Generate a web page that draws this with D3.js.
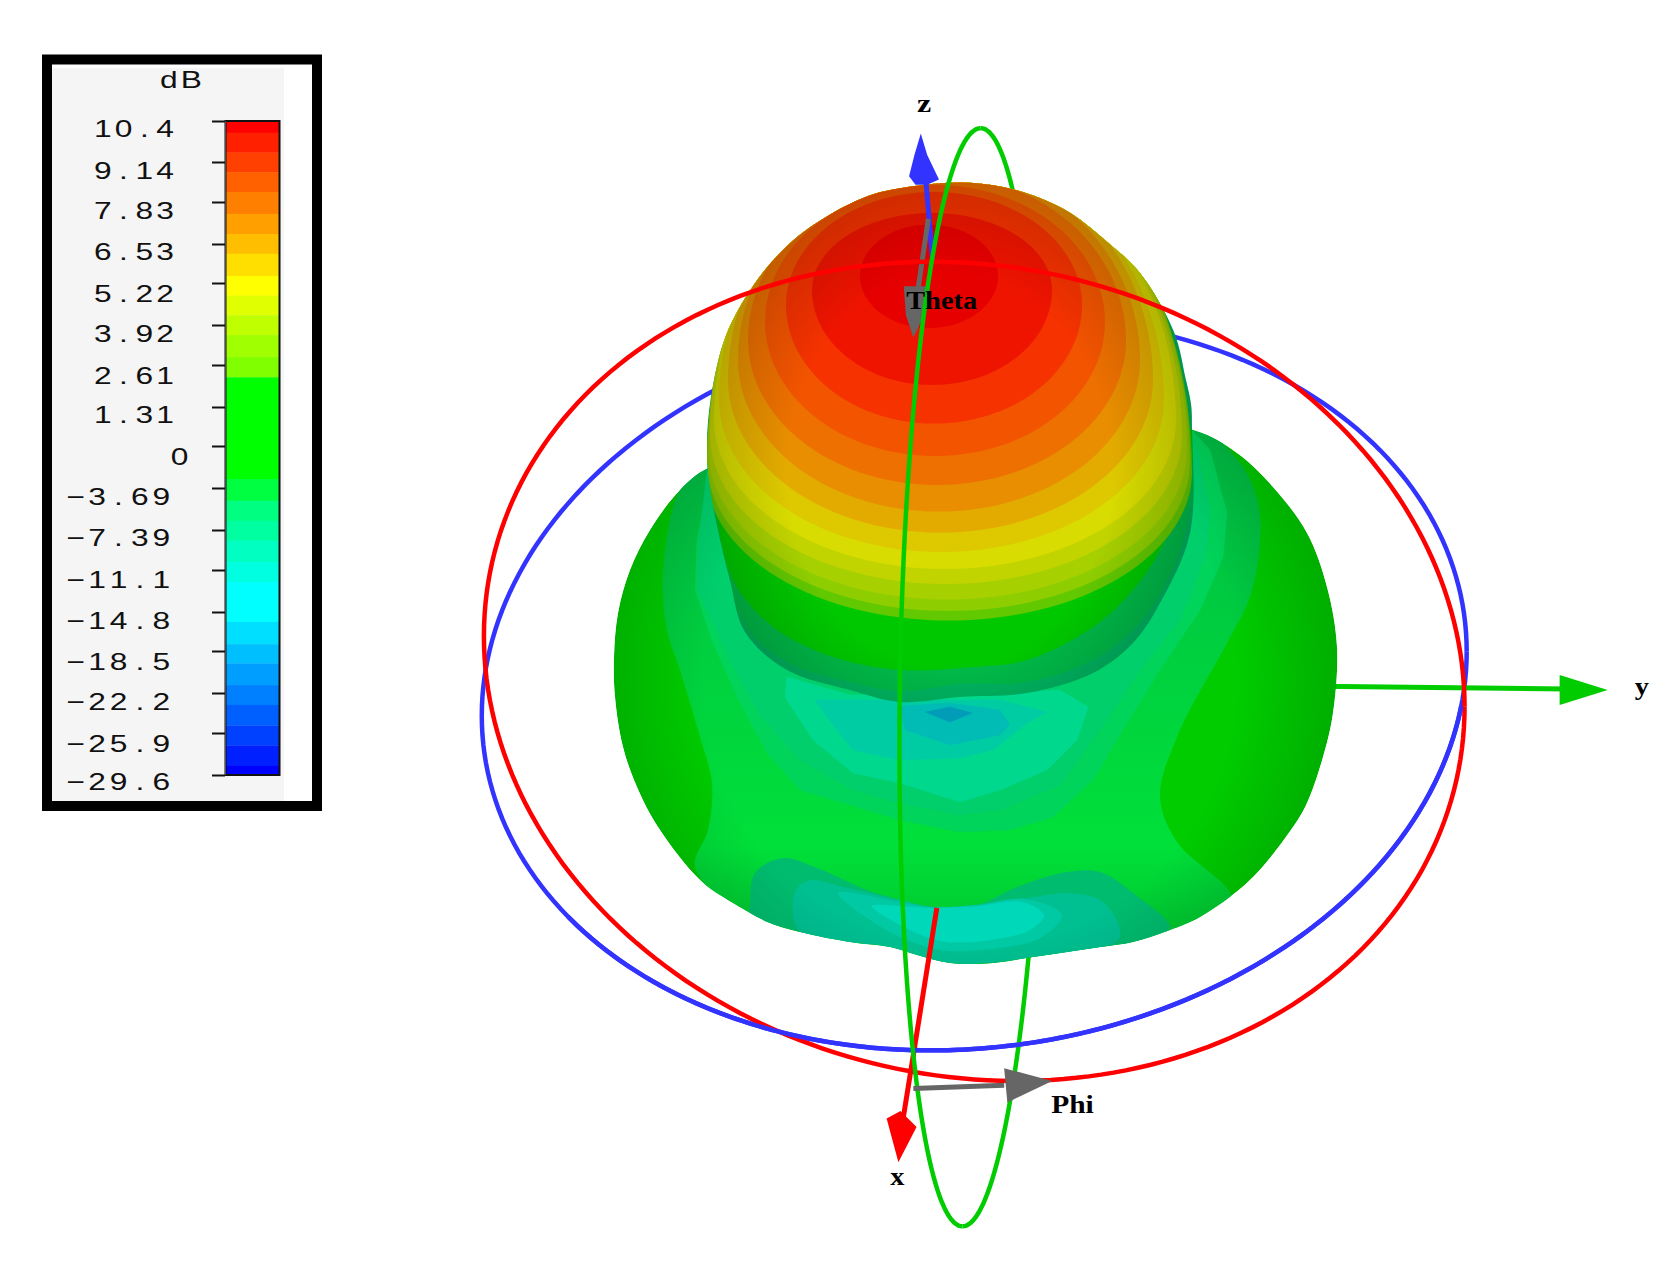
<!DOCTYPE html>
<html><head><meta charset="utf-8">
<script src="https://cdn.jsdelivr.net/npm/d3@7"></script>
<style>html,body{margin:0;padding:0;background:#fff}svg{display:block}</style>
</head><body><div id="c"></div>
<script>
// ---------- legend data ----------
const tickValues = [10.4,9.14,7.83,6.53,5.22,3.92,2.61,1.31,0,-3.69,-7.39,-11.1,-14.8,-18.5,-22.2,-25.9,-29.6];
const tickLabels = ["10.4","9.14","7.83","6.53","5.22","3.92","2.61","1.31","0","−3.69","−7.39","−11.1","−14.8","−18.5","−22.2","−25.9","−29.6"];
const bandEdges = [10.4,10.04,9.43,8.81,8.16,7.46,6.84,6.2,5.46,4.83,4.22,3.59,2.87,2.23,-2.9,-4.81,-6.57,-8.38,-10.36,-12.16,-15.74,-17.85,-19.6,-21.5,-23.3,-25.2,-27,-28.8,-29.6];
const bandColors = ["#ff0000","#ff2000","#ff4000","#ff6000","#ff8000","#ff9f00","#ffbf00","#ffdf00","#ffff00","#e0ff00","#c0ff00","#a0ff00","#80ff00","#00ff00","#00ff40","#00ff80","#00ffa0","#00ffc0","#00ffe0","#00ffff","#00dfff","#00bfff","#009fff","#0080ff","#0060ff","#0040ff","#0020ff","#0000ff"];

// ---------- surface: upper lobe contour rings [cx, cy, rx, bottom, top] ----------
const ringOutlines = [
 [949,472,243,620.6,125],[948.5,462,241.5,611,130],[947.5,450,239.5,599.6,135],[946,435,236,584,140],
 [945,420,231,569,145],[941.5,400,222.5,552,150],[940.5,380,212.5,532.6,155],[939,360,201,511.6,165],
 [937,340,189,485,175],[935,322,170,456,185],[934,305,148,423.6,192],[932,290,120,385,213],[929,276,69,328,224.6]];
const ringColors = ["#62c800","#8ece00","#a6d000","#c2d400","#d8dc00","#dec800","#e3ab00","#e88e00","#ed7000","#f25400","#f53200","#ee1400","#e60000"];

// ---------- surface: outlines of the lobes and of their contour patches ----------
const bodyOutline = [[710,467],[680,490],[650,530],[630,570],[618,613],[614,657],[615,697],[623,747],[637,787],[658,827],[700,880],[733,903],[770,923],[800,932],[850,942],[890,947],[917,955],[950,963],[993,963],[1033,957],[1067,952],[1100,947],[1133,942],[1170,930],[1200,917],[1250,880],[1293,827],[1307,803],[1323,757],[1333,713],[1337,647],[1327,587],[1307,533],[1273,487],[1237,453],[1193,430],[950,400]];
const lobeOutline = [[707,450],[711,397],[726,335.5],[753,286],[781,252],[814,224.6],[868,196],[915,186],[963.6,182.5],[1003,187],[1040,198],[1072,214],[1105,240],[1140,273],[1174,332],[1185.5,378],[1191,404],[1192,430],[1190,533],[1160,603],[1133,643],[1093,673],[1027,693],[960,697],[900,702],[850,690],[787,670],[745,632],[730,580],[712,500]];
const neckLayers = [
 [[707,450],[715,510],[743,622],[787,662],[850,682],[900,691],[960,684],[1027,682],[1093,660],[1133,630],[1165,585],[1188,520],[1192,430],[950,420]],
 [[707,450],[715,510],[733,580],[773,627],[833,657],[900,670],[960,668],[1027,660],[1093,627],[1133,590],[1160,550],[1187,480],[1192,430],[950,420]]];
const neckColors = ["#00ba48","#00c800"];
const midBody = [[708,465],[680,490],[663,573],[667,630],[680,670],[700,737],[712,783],[708,830],[695,866],[733,910],[800,940],[950,970],[1100,955],[1170,938],[1232,900],[1177,842],[1160,797],[1177,737],[1227,643],[1250,597],[1260,543],[1258,503],[1240,463],[1193,425],[950,400]];
const valleyLayers = [
 {pts:[[707,490],[697,540],[695,590],[713,643],[737,697],[767,753],[800,790],[867,810],[900,820],[960,832],[1010,830],[1053,817],[1093,780],[1127,723],[1160,670],[1200,610],[1223,557],[1227,513],[1210,450],[1192,430],[950,450]],fill:"#00d45a"},
 {pts:[[707,470],[699,540],[698,590],[730,660],[760,715],[800,760],[853,790],[900,803],[960,815],[1000,810],[1060,785],[1100,730],[1140,670],[1180,620],[1206,555],[1210,510],[1195,440],[950,450]],fill:"#00cf6c"},
 {pts:[[787,677],[785,697],[813,740],[853,773],[900,783],[960,802],[1000,790],[1047,770],[1077,740],[1088,707],[1060,690],[960,695],[850,695]],fill:"#00d88e"},
 {pts:[[815,700],[827,717],[853,750],[900,760],[960,758],[993,750],[1027,723],[1047,712],[1000,700],[900,700]],fill:"#00cca4"},
 {pts:[[900,706],[905,730],[950,745],[1000,735],[1010,725],[1000,710],[950,703]],fill:"#00bcb4"},
 {pts:[[925,712],[950,722],[972,713],[950,707]],fill:"#009cb8"}];
const pocketLayers = [
 {pts:[[750,903],[755,873],[783,858],[817,868],[867,890],[900,900],[933,907],[977,905],[1017,887],[1067,872],[1100,872],[1133,893],[1170,928],[1133,942],[1067,952],[993,963],[950,963],[890,947],[800,932],[750,913]],fill:"#00bc6e"},
 {pts:[[793,900],[800,885],[813,880],[843,887],[900,900],[933,907],[977,905],[1033,897],[1067,893],[1100,900],[1118,923],[1118,940],[1033,957],[950,963],[890,947],[800,932]],fill:"#00bf90"},
 {pts:[[838,893],[900,902],[933,907],[977,905],[1025,899],[1062,915],[1040,938],[983,950],[940,950],[890,932]],fill:"#00c9a4"},
 {pts:[[872,906],[900,906],[933,908],[977,906],[1022,902],[1044,915],[1030,930],[983,941],[940,941],[902,926]],fill:"#00d8ba"}];

// ---------- reference rings and axes ----------
const ringRed = {c:[912,628.5],u:[459,33],v:[0,382]};
const ringBlue = {c:[912,640],u:[461,-30],v:[0,342]};
const ringGreen = {c:[909.5,634],u:[8.5,-514],v:[-67,0]};
const arrows = [
 {shaft:[[1000,640],[1465,645]],head:[[1460,632],[1505,646],[1460,660]],col:"#00cc00",w:5,layer:"back"},
 {shaft:[[877,850],[845,1050]],head:[[830,1047],[843,1040],[858,1055],[841,1088]],col:"#ff0000",w:5,layer:"front"},
 {shaft:[[867,172],[873,244]],head:[[851,165],[856,145],[862,125],[868,145],[879,168],[868,173],[857,173]],col:"#3333ff",w:5,layer:"front"},
 {shaft:[[869,205],[858,280]],head:[[846,268],[870,268],[870,285],[855,316],[848,295]],col:"#666666",w:5,layer:"front"},
 {shaft:[[855,1019],[940,1016]],head:[[940,1000],[985,1012],[943,1032]],col:"#666666",w:5,layer:"top"}];
const axisLabels = [
 {t:"z",x:865,y:105},{t:"y",x:1537,y:651},{t:"x",x:840,y:1109},{t:"Phi",x:1004,y:1042},{t:"Theta",x:881.5,y:289}];

// ---------- drawing ----------
const W=1675,H=1264;
const svg=d3.select("#c").append("svg").attr("width",W).attr("height",H);
const defs=svg.append("defs");
const sx=d3.scaleLinear().domain([0,1568]).range([0,W]);
const sy=d3.scaleLinear().domain([0,1183.3]).range([0,H]);
const px=d3.scaleIdentity();
const closed=d3.line().x(d=>px(d[0])).y(d=>px(d[1])).curve(d3.curveCatmullRomClosed.alpha(0.5));
const poly=d3.line().x(d=>px(d[0])).y(d=>px(d[1])).curve(d3.curveLinearClosed);
const angular=d3.line().x(d=>sx(d[0])).y(d=>sy(d[1])).curve(d3.curveLinearClosed);
const open=d3.line().x(d=>sx(d[0])).y(d=>sy(d[1]));

// legend frame
const lg=svg.append("g");
lg.append("rect").attr("x",47).attr("y",59.5).attr("width",270).attr("height",746.5).attr("fill","#fff").attr("stroke","#000").attr("stroke-width",10);
lg.append("rect").attr("x",52).attr("y",68).attr("width",232).attr("height",733).attr("fill","#f5f5f5");
const legendY=d3.scaleLinear().domain(tickValues).range([121,162,202,244,283,325,365,407,446,488,530,570,612,651,693,733,775]);
const labelMidY=[129,171,210.7,252,294,334,376,415,457,496.7,538,580,620.7,662,702,743.3,781.7];
lg.selectAll("rect.band").data(bandColors).join("rect").attr("class","band")
 .attr("x",226).attr("width",53)
 .attr("y",(d,i)=>legendY(bandEdges[i]))
 .attr("height",(d,i)=>legendY(bandEdges[i+1])-legendY(bandEdges[i])+0.3)
 .attr("fill",d=>d);
lg.append("rect").attr("x",225.5).attr("y",121).attr("width",54).attr("height",654).attr("fill","none").attr("stroke","#111").attr("stroke-width",2);
const axis=d3.axisLeft(legendY).tickValues(tickValues).tickSize(13).tickFormat("");
const ag=lg.append("g").attr("transform","translate(225,0)").call(axis);
ag.selectAll("line").attr("stroke","#111").attr("stroke-width",2);
ag.select(".domain").attr("stroke","#888").attr("stroke-width",1).attr("d","M0,121V775");
// wide cell-spaced glyphs, like the stretched bitmap font of the source
const fs=23.5,stretch=1.35;
const glyphW=c=>(c==="."?0.278:c==="−"?0.584:0.556)*fs;
const cellXs=(s,xEnd)=>{
 const adv=s.length>4?21.4:20.8;
 const start=xEnd-s.length*adv;
 return Array.from(s).map((c,i)=>((start+i*adv)/stretch+(adv/stretch-glyphW(c))/2).toFixed(2)).join(" ");
};
lg.selectAll("text.tl").data(tickLabels).join("text").attr("class","tl")
 .attr("transform",(d,i)=>`translate(0,${labelMidY[i]+8.2}) scale(${stretch},1)`)
 .attr("x",(d,i)=>cellXs(d,d==="0"?190:(tickValues[i]<0?172:175.5)))
 .attr("font-family","'Liberation Sans',sans-serif").attr("font-size",fs).attr("fill","#111").text(d=>d);
lg.append("text").attr("transform",`translate(0,88) scale(${stretch},1)`).attr("x",cellXs("dB",200))
 .attr("font-family","'Liberation Sans',sans-serif").attr("font-size",fs).attr("fill","#111").text("dB");

// reference rings
const ringPts=(r,a0,a1)=>d3.range(a0,a1+0.001,(a1-a0)/240).map(t=>[r.c[0]+r.u[0]*Math.cos(t)+r.v[0]*Math.sin(t),r.c[1]+r.u[1]*Math.cos(t)+r.v[1]*Math.sin(t)]);
const drawRing=(g,r,a0,a1,col)=>g.append("path").attr("d",open(ringPts(r,a0,a1))).attr("fill","none").attr("stroke",col).attr("stroke-width",4.5);
const drawArrow=(g,a)=>{
 g.append("path").attr("d",open(a.shaft)).attr("stroke",a.col).attr("stroke-width",a.w).attr("fill","none");
 g.append("path").attr("d",angular(a.head)).attr("fill",a.col);
};
const back=svg.append("g");
drawRing(back,ringBlue,0,2*Math.PI,"#3333ff");
drawRing(back,ringGreen,Math.PI,2*Math.PI,"#00cc00");
arrows.filter(a=>a.layer==="back").forEach(a=>drawArrow(back,a));

// gradients and clips
defs.append("clipPath").attr("id","bodyClip").append("path").attr("d",closed(bodyOutline));
defs.append("clipPath").attr("id","lobeClip").append("path").attr("d",closed(lobeOutline));
const rg=defs.append("radialGradient").attr("id","bodyShade").attr("gradientUnits","userSpaceOnUse")
 .attr("cx",970).attr("cy",680).attr("r",370);
rg.append("stop").attr("offset",0.72).attr("stop-color","#000").attr("stop-opacity",0);
rg.append("stop").attr("offset",1).attr("stop-color","#000").attr("stop-opacity",0.15);
const rl=defs.append("radialGradient").attr("id","lobeShade").attr("gradientUnits","userSpaceOnUse")
 .attr("cx",0).attr("cy",0).attr("r",1).attr("gradientTransform","translate(950,470) scale(250,300)");
rl.append("stop").attr("offset",0.65).attr("stop-color","#000").attr("stop-opacity",0);
rl.append("stop").attr("offset",1).attr("stop-color","#000").attr("stop-opacity",0.18);
const mg=defs.append("linearGradient").attr("id","midFill").attr("gradientUnits","userSpaceOnUse")
 .attr("x1",0).attr("x2",0).attr("y1",470).attr("y2",940);
[[0,"#00c044"],[0.6,"#00d83c"],[0.8,"#00e03a"],[1,"#00c62e"]].forEach(s=>mg.append("stop").attr("offset",s[0]).attr("stop-color",s[1]));

// lower lobe
const body=svg.append("g").attr("clip-path","url(#bodyClip)");
body.append("path").attr("d",closed(bodyOutline)).attr("fill","#00cc00");
body.append("path").attr("d",closed(midBody)).attr("fill","url(#midFill)");
valleyLayers.forEach(p=>body.append("path").attr("d",poly(p.pts)).attr("fill",p.fill).attr("stroke",p.fill).attr("stroke-width",0.5));
pocketLayers.forEach(p=>body.append("path").attr("d",closed(p.pts)).attr("fill",p.fill));
body.append("rect").attr("width",W).attr("height",H).attr("fill","url(#bodyShade)");

// upper lobe
const lobe=svg.append("g");
lobe.append("path").attr("d",closed(lobeOutline)).attr("fill","#00b460");
const lobeIn=lobe.append("g").attr("clip-path","url(#lobeClip)");
neckLayers.forEach((p,i)=>lobeIn.append("path").attr("d",closed(p)).attr("fill",neckColors[i]));
const ringPath=r=>{
 const [cx,cy,rx,bot,top]=r;
 const pts=d3.range(0,2*Math.PI,Math.PI/60).map(t=>{
  const s=Math.sin(t);
  return [cx+rx*Math.cos(t),cy+(s>0?bot-cy:cy-top)*s];
 });
 return poly(pts);
};
lobeIn.selectAll("path.r").data(ringOutlines).join("path").attr("class","r")
 .attr("d",ringPath).attr("fill",(d,i)=>ringColors[i]);
lobeIn.append("rect").attr("width",W).attr("height",H).attr("fill","url(#lobeShade)");

// front marks
const front=svg.append("g");
arrows.filter(a=>a.layer==="front").forEach(a=>drawArrow(front,a));
drawRing(front,ringRed,0,2*Math.PI,"#ff0000");
drawRing(front,ringBlue,0.15,Math.PI-0.6,"#3333ff");
drawRing(front,ringGreen,0,Math.PI,"#00cc00");
arrows.filter(a=>a.layer==="top").forEach(a=>drawArrow(front,a));
front.selectAll("text").data(axisLabels).join("text")
 .attr("x",d=>sx(d.x)).attr("y",d=>sy(d.y)).attr("text-anchor","middle")
 .attr("font-family","'Liberation Serif',serif").attr("font-weight","bold").attr("font-size",26).attr("fill","#000")
 .attr("textLength",d=>d.t.length*14.2).attr("lengthAdjust","spacingAndGlyphs").text(d=>d.t);
</script></body></html>
